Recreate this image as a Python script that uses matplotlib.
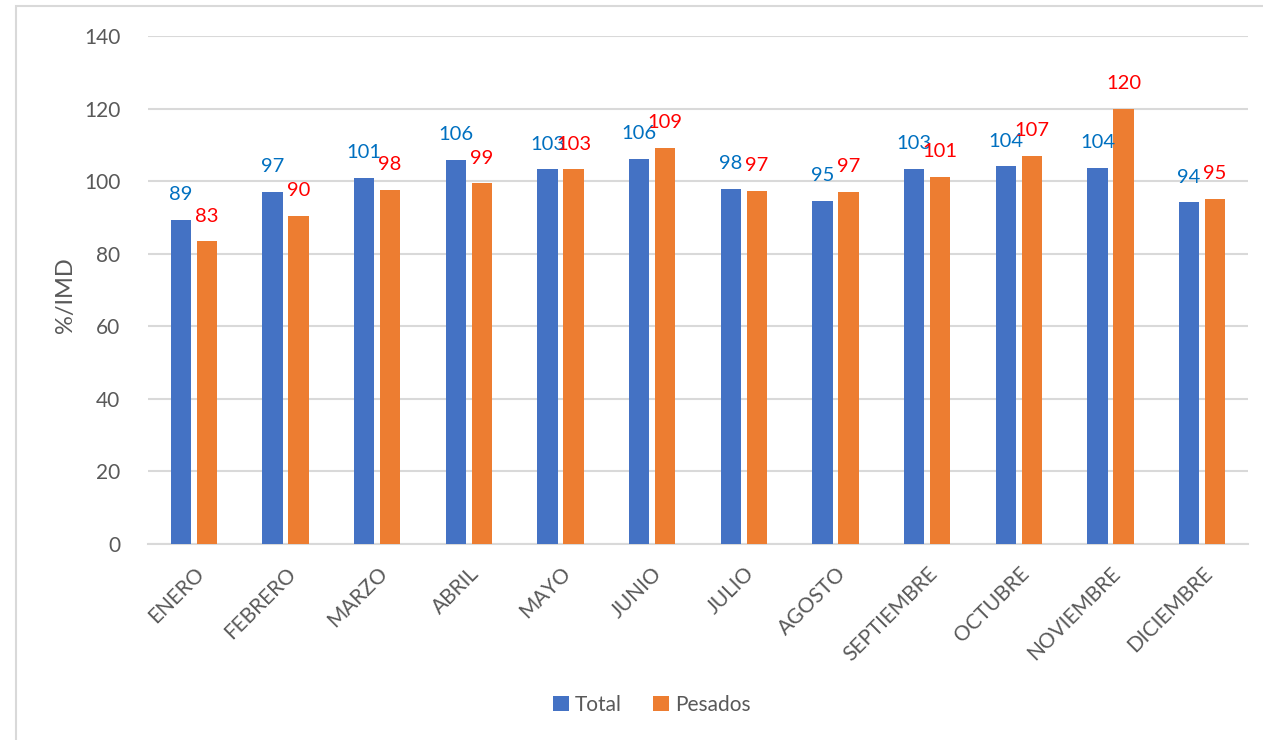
import matplotlib
matplotlib.use("Agg")
import matplotlib.pyplot as plt
import numpy as np
from matplotlib.patches import Rectangle

months = ["ENERO", "FEBRERO", "MARZO", "ABRIL", "MAYO", "JUNIO", "JULIO",
          "AGOSTO", "SEPTIEMBRE", "OCTUBRE", "NOVIEMBRE", "DICIEMBRE"]
total = [89.4, 97.1, 100.9, 105.9, 103.3, 106.2, 97.8, 94.6, 103.4, 104.1, 103.7, 94.2]
pesados = [83.4, 90.4, 97.6, 99.4, 103.3, 109.2, 97.3, 97.0, 101.2, 106.9, 119.9, 95.2]
y_ticks = [0, 20, 40, 60, 80, 100, 120, 140]

plt.rcParams['font.family'] = ['Lato', 'DejaVu Sans']

fig = plt.figure(figsize=(12.63, 7.40), dpi=100)
ax = fig.add_axes([148/1263, 1-544/740, 1100/1263, 508/740])

x = np.arange(len(months))
w = 0.22
off = 0.142
c_blue = "#4472C4"
c_orange = "#ED7D31"
b1 = ax.bar(x - off, total, w, color=c_blue, label="Total", zorder=3)
b2 = ax.bar(x + off, pesados, w, color=c_orange, label="Pesados", zorder=3)

for xi, v in zip(x, total):
    ax.annotate(f"{round(v)}", (xi - off, v), xytext=(0, 12), textcoords="offset points",
                ha="center", va="bottom", color="#0070C0", fontsize=14.5, zorder=4)
for xi, v in zip(x, pesados):
    ax.annotate(f"{round(v)}", (xi + off, v), xytext=(0, 12), textcoords="offset points",
                ha="center", va="bottom", color="#FF0000", fontsize=14.5, zorder=4)

ax.set_xlim(-0.5, len(months) - 0.5)
ax.set_ylim(0, 140)
ax.set_yticks(y_ticks)
ax.set_yticklabels([str(t) for t in y_ticks], color="#595959", fontsize=15)
ax.set_xticks(x)
ax.set_xticklabels(months, rotation=45, ha="right", va="top", rotation_mode="anchor",
                   color="#595959", fontsize=15)
ax.tick_params(axis="both", length=0)
ax.tick_params(axis="y", pad=20)
ax.tick_params(axis="x", pad=14)
ax.grid(axis="y", color="#D9D9D9", linewidth=1.5, zorder=0)
for s in ["top", "right", "left"]:
    ax.spines[s].set_visible(False)
ax.spines["bottom"].set_color("#D9D9D9")
ax.spines["bottom"].set_linewidth(1.5)
fig.text(66/1263, 1-295/740, "%/IMD", rotation=90, ha="center", va="center",
         color="#595959", fontsize=17)

leg = fig.legend(handles=[b1, b2], labels=["Total", "Pesados"], loc="center",
                 bbox_to_anchor=(652/1263, 1-705/740), ncol=2, frameon=False,
                 fontsize=15, handlelength=0.75, handleheight=0.75, handletextpad=0.3,
                 columnspacing=1.5)
for t in leg.get_texts():
    t.set_color("#595959")

fig.patches.append(Rectangle((16/1263, -0.1), 1.2, 1 - 6/740 + 0.1,
                             transform=fig.transFigure, fill=False,
                             edgecolor="#D9D9D9", linewidth=1.5))

fig.savefig("out.png", dpi=100)
